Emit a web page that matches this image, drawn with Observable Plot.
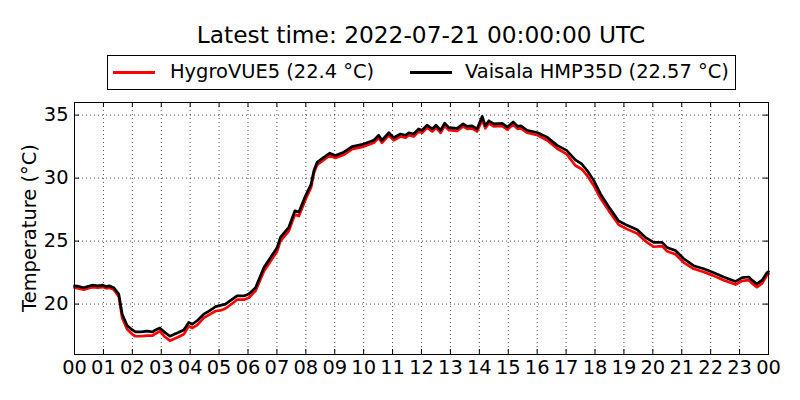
<!DOCTYPE html>
<html><head><meta charset="utf-8">
<script src="https://cdn.jsdelivr.net/npm/d3@7"></script>
<script src="https://cdn.jsdelivr.net/npm/@observablehq/plot@0.6"></script>
<style>
body{margin:0;background:#fff;font-family:"DejaVu Sans",sans-serif;color:#000;}
#wrap{position:relative;width:800px;height:400px;overflow:hidden;background:#fff;}
#title{position:absolute;left:74px;width:694px;top:22.6px;text-align:center;font-size:23.3px;line-height:23.3px;white-space:nowrap;}
#legendbox{position:absolute;left:107px;top:55px;width:629px;height:35px;border:1px solid #000;box-sizing:border-box;}
.lg-line{position:absolute;height:3px;top:70.5px;}
.lg-text{position:absolute;top:61.9px;font-size:19.44px;line-height:19.44px;white-space:nowrap;}
#ylabel{position:absolute;z-index:5;left:-120px;width:300px;top:218px;line-height:20px;font-size:19.44px;text-align:center;transform:rotate(-90deg);white-space:nowrap;}
#chart{position:absolute;z-index:1;left:0;top:92px;}
</style></head><body>
<div id="wrap">
  <div id="title"></div>
  <div id="legendbox"></div>
  <div id="chart"></div>
  <div id="ylabel">Temperature (°C)</div>
</div>
<script>
const titleText = "Latest time: 2022-07-21 00:00:00 UTC";
const seriesNames = ["HygroVUE5", "Vaisala HMP35D"];
const latestValues = ["22.4", "22.57"];
const seriesColors = ["red", "black"];
const yTicks = [20, 25, 30, 35];
const xTicks = [0,1,2,3,4,5,6,7,8,9,10,11,12,13,14,15,16,17,18,19,20,21,22,23,24];
const xTickLabels = ["00","01","02","03","04","05","06","07","08","09","10","11","12","13","14","15","16","17","18","19","20","21","22","23","00"];

// hours since 00 UTC
const hours = [
 0.0,0.15,0.32,0.45,0.61,0.8,0.98,1.1,1.2,1.36,
 1.53,1.65,1.82,2.0,2.11,2.3,2.51,2.7,2.8,2.95,
 3.1,3.3,3.45,3.55,3.78,3.95,4.07,4.25,4.47,4.65,
 4.88,5.05,5.22,5.4,5.62,5.86,6.03,6.26,6.55,6.78,
 7.01,7.12,7.41,7.62,7.76,7.99,8.18,8.28,8.39,8.62,
 8.83,9.02,9.31,9.6,10.0,10.35,10.52,10.63,10.87,11.04,
 11.27,11.45,11.56,11.73,11.9,12.02,12.19,12.37,12.5,12.66,
 12.8,12.95,13.23,13.44,13.58,13.75,13.92,14.1,14.21,14.33,
 14.5,14.79,14.97,15.17,15.33,15.44,15.65,16.02,16.34,16.69,
 17.02,17.32,17.55,17.73,17.96,18.19,18.48,18.82,19.11,19.46,
 19.74,20.03,20.32,20.49,20.78,21.07,21.41,21.76,22.05,22.45,
 22.86,23.09,23.32,23.43,23.6,23.78,23.95,24.0
];
const hygroVUE5 = [
 21.3,21.25,21.15,21.25,21.35,21.3,21.35,21.25,21.3,21.15,
 20.6,18.9,18.0,17.6,17.45,17.45,17.5,17.5,17.65,17.85,
 17.45,17.1,17.25,17.35,17.6,18.25,18.1,18.35,18.9,19.15,
 19.45,19.5,19.65,19.95,20.35,20.35,20.5,21.05,22.6,23.4,
 24.2,25.0,25.8,27.1,27.0,28.3,29.25,30.4,31.05,31.45,
 31.8,31.6,31.85,32.3,32.5,32.8,33.2,32.8,33.4,33.0,
 33.3,33.2,33.4,33.3,33.7,33.6,34.0,33.7,34.0,33.6,
 34.15,33.8,33.75,34.1,33.9,33.95,33.7,34.6,33.95,34.35,
 34.1,34.15,33.85,34.25,33.9,33.95,33.6,33.4,33.0,32.35,
 31.9,31.0,30.7,30.2,29.4,28.4,27.4,26.3,25.95,25.6,
 25.0,24.55,24.6,24.2,23.95,23.3,22.8,22.55,22.3,21.9,
 21.55,21.85,21.9,21.65,21.35,21.65,22.3,22.4
];
const vaisalaHMP35D = [
 21.45,21.4,21.3,21.4,21.5,21.45,21.5,21.4,21.45,21.3,
 20.8,19.2,18.3,17.95,17.8,17.8,17.85,17.8,17.95,18.1,
 17.8,17.45,17.6,17.7,17.95,18.55,18.4,18.7,19.2,19.45,
 19.8,19.9,20.0,20.3,20.65,20.65,20.8,21.3,22.9,23.7,
 24.5,25.3,26.1,27.4,27.3,28.6,29.5,30.6,31.25,31.65,
 31.98,31.8,32.06,32.5,32.7,33.0,33.4,33.0,33.6,33.2,
 33.5,33.4,33.6,33.5,33.9,33.8,34.2,33.9,34.2,33.8,
 34.35,34.0,33.95,34.3,34.1,34.15,33.9,34.9,34.15,34.55,
 34.3,34.35,34.05,34.45,34.1,34.15,33.8,33.6,33.25,32.6,
 32.2,31.45,31.1,30.6,29.8,28.75,27.7,26.6,26.25,25.9,
 25.3,24.9,24.9,24.5,24.25,23.6,23.05,22.8,22.55,22.15,
 21.8,22.1,22.15,21.9,21.6,21.9,22.5,22.57
];

document.getElementById("title").textContent = titleText;

// legend
const wrap = document.getElementById("wrap");
const legendPos = [{line: 113, len: 42, text: 170}, {line: 410, len: 42, text: 465}];
seriesNames.forEach((name, i) => {
  const ln = document.createElement("div");
  ln.className = "lg-line";
  ln.style.left = legendPos[i].line + "px";
  ln.style.width = legendPos[i].len + "px";
  ln.style.background = seriesColors[i];
  wrap.appendChild(ln);
  const tx = document.createElement("div");
  tx.className = "lg-text";
  tx.style.left = legendPos[i].text + "px";
  tx.textContent = `${name} (${latestValues[i]} °C)`;
  wrap.appendChild(tx);
});

const redData = hours.map((h, i) => ({h, t: hygroVUE5[i]}));
const blackData = hours.map((h, i) => ({h, t: vaisalaHMP35D[i]}));

const W = 800, H = 308, mL = 74, mR = 32, mT = 10, mB = 46;
const fw = W - mL - mR, fh = H - mT - mB;
const tick = 5;
const grid = {stroke: "black", strokeOpacity: 1, strokeWidth: 0.7, strokeDasharray: "1,3"};

const chart = Plot.plot({
  width: W, height: H,
  marginLeft: mL, marginRight: mR, marginTop: mT, marginBottom: mB,
  style: {fontFamily: "DejaVu Sans, sans-serif", fontSize: "19.44px", color: "black", background: "transparent"},
  x: {domain: [0, 24], ticks: xTicks},
  y: {domain: [16, 36], ticks: yTicks},
  marks: [
    Plot.gridX(xTicks, grid),
    Plot.gridY(yTicks, grid),
    Plot.line(redData, {x: "h", y: "t", stroke: seriesColors[0], strokeWidth: 2.7}),
    Plot.line(blackData, {x: "h", y: "t", stroke: seriesColors[1], strokeWidth: 2.7}),
    Plot.tickY(yTicks, {y: d => d, stroke: "black", insetRight: fw - tick}),
    Plot.tickY(yTicks, {y: d => d, stroke: "black", insetLeft: fw - tick}),
    Plot.tickX(xTicks, {x: d => d, stroke: "black", insetTop: fh - tick}),
    Plot.tickX(xTicks, {x: d => d, stroke: "black", insetBottom: fh - tick}),
    Plot.frame({stroke: "black", strokeWidth: 1}),
    Plot.axisX(xTicks, {tickSize: 0, tickPadding: 6, label: null, tickFormat: (d, i) => xTickLabels[xTicks.indexOf(d)]}),
    Plot.axisY(yTicks, {tickSize: 0, tickPadding: 6, label: null})
  ]
});
document.getElementById("chart").appendChild(chart);
</script>
</body></html>
